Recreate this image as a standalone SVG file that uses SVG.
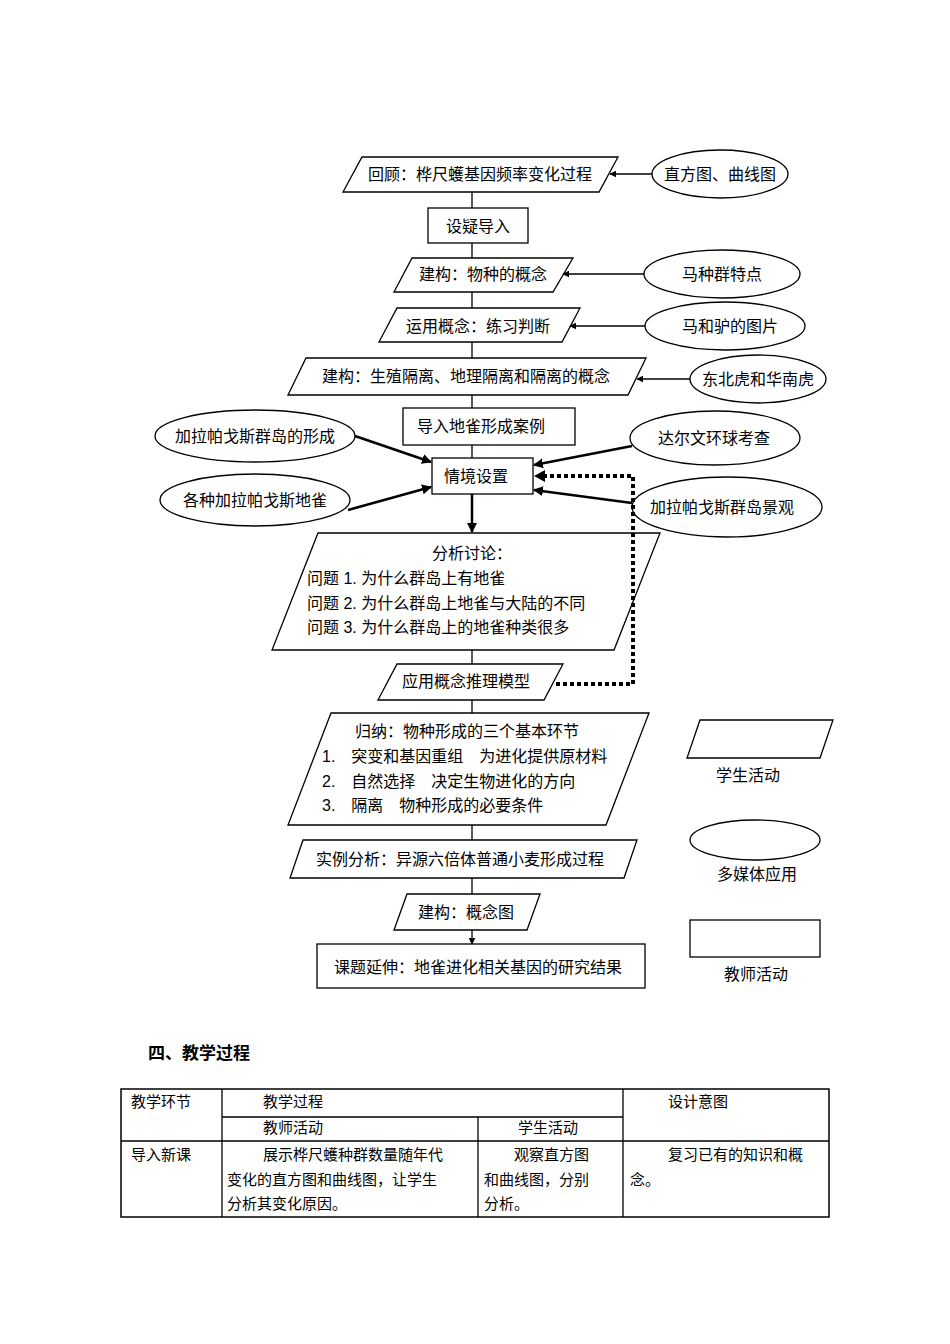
<svg xmlns="http://www.w3.org/2000/svg" width="950" height="1344" viewBox="0 0 950 1344">
<style>
text{font-family:"Liberation Sans","Noto Sans CJK SC",sans-serif;font-size:16px;fill:#000}
.s{fill:#fff;stroke:#000;stroke-width:1.3}
.c{stroke:#000;stroke-width:1.3;fill:none}
.t{stroke:#000;stroke-width:2.5;fill:none}
.m{text-anchor:middle}
.tb{font-size:15px}
</style>
<defs>
<marker id="a" viewBox="0 0 10 10" refX="9" refY="5" markerWidth="7" markerHeight="7" orient="auto" markerUnits="userSpaceOnUse"><path d="M0,0L10,5L0,10z"/></marker>
<marker id="b" viewBox="0 0 10 10" refX="9" refY="5" markerWidth="10" markerHeight="10" orient="auto" markerUnits="userSpaceOnUse"><path d="M0,0L10,5L0,10z"/></marker>
</defs>
<rect width="950" height="1344" fill="#fff"/>
<g id="n1"><polygon class="s" points="362,157 618,157 599,192 343,192"/><text class="m" x="480" y="180">回顾：桦尺蠖基因频率变化过程</text></g>
<g id="e1"><ellipse class="s" cx="720" cy="174" rx="68" ry="24"/><text class="m" x="720" y="180">直方图、曲线图</text></g>
<g id="n2"><rect class="s" x="428" y="208" width="100" height="35"/><text class="m" x="478" y="232">设疑导入</text></g>
<g id="n3"><polygon class="s" points="412,258 573,258 553,292 394,292"/><text class="m" x="483" y="280">建构：物种的概念</text></g>
<g id="e2"><ellipse class="s" cx="722" cy="274" rx="78" ry="24"/><text class="m" x="722" y="280">马种群特点</text></g>
<g id="n4"><polygon class="s" points="397,308 580,308 562,342 379,342"/><text class="m" x="478" y="332">运用概念：练习判断</text></g>
<g id="e3"><ellipse class="s" cx="725" cy="326" rx="80" ry="24"/><text class="m" x="730" y="332">马和驴的图片</text></g>
<g id="n5"><polygon class="s" points="306,358 646,358 628,395 288,395"/><text class="m" x="466" y="382">建构：生殖隔离、地理隔离和隔离的概念</text></g>
<g id="e4"><ellipse class="s" cx="758" cy="379" rx="68" ry="24"/><text class="m" x="758" y="385">东北虎和华南虎</text></g>
<g id="n6"><rect class="s" x="403" y="408" width="172" height="37"/><text class="m" x="481" y="432">导入地雀形成案例</text></g>
<g id="e5"><ellipse class="s" cx="255" cy="436" rx="100" ry="26"/><text class="m" x="255" y="442">加拉帕戈斯群岛的形成</text></g>
<g id="e6"><ellipse class="s" cx="255" cy="500" rx="95" ry="26"/><text class="m" x="255" y="506">各种加拉帕戈斯地雀</text></g>
<g id="e7"><ellipse class="s" cx="715" cy="438" rx="85" ry="27"/><text class="m" x="714" y="444">达尔文环球考查</text></g>
<g id="e8"><ellipse class="s" cx="727" cy="507" rx="95" ry="30"/><text class="m" x="722" y="513">加拉帕戈斯群岛景观</text></g>
<g id="n7"><rect class="s" x="432" y="458" width="101" height="36"/><text class="m" x="476" y="482">情境设置</text></g>
<g id="n8"><polygon class="s" points="318,533 660,533 614,650 272,650"/>
<text class="m" x="472" y="559">分析讨论：</text>
<text x="307" y="584">问题 1. 为什么群岛上有地雀</text>
<text x="307" y="609">问题 2. 为什么群岛上地雀与大陆的不同</text>
<text x="307" y="633">问题 3. 为什么群岛上的地雀种类很多</text></g>
<g id="n9"><polygon class="s" points="397,664 563,664 544,700 378,700"/><text class="m" x="466" y="687">应用概念推理模型</text></g>
<g id="n10"><polygon class="s" points="331,713 649,713 606,825 288,825"/>
<text x="355" y="737">归纳：物种形成的三个基本环节</text>
<text x="322" y="762">1.　突变和基因重组　为进化提供原材料</text>
<text x="322" y="787">2.　自然选择　决定生物进化的方向</text>
<text x="322" y="811">3.　隔离　物种形成的必要条件</text></g>
<g id="n11"><polygon class="s" points="303,840 637,840 624,878 290,878"/><text class="m" x="460" y="865">实例分析：异源六倍体普通小麦形成过程</text></g>
<g id="n12"><polygon class="s" points="407,894 540,894 527,930 394,930"/><text class="m" x="466" y="918">建构：概念图</text></g>
<g id="n13"><rect class="s" x="317" y="944" width="328" height="44"/><text class="m" x="478" y="973">课题延伸：地雀进化相关基因的研究结果</text></g>
<g id="legend">
<polygon class="s" points="700,720 833,720 820,758 687,758"/><text class="m" x="748" y="781">学生活动</text>
<ellipse class="s" cx="755" cy="840" rx="65" ry="20"/><text class="m" x="757" y="880">多媒体应用</text>
<rect class="s" x="690" y="920" width="130" height="37"/><text class="m" x="756" y="980">教师活动</text>
</g>
<g id="connectors">
<path class="c" marker-end="url(#a)" d="M472,192V208M472,243V258M472,292V308M472,342V358M472,395V408M472,445V458M472,650V664M472,700V713M472,825V840M472,878V894M472,930V944"/>
<path class="c" marker-end="url(#a)" d="M652,174H610"/>
<path class="c" marker-end="url(#a)" d="M644,274H563"/>
<path class="c" marker-end="url(#a)" d="M645,326H570"/>
<path class="c" marker-end="url(#a)" d="M690,379H637"/>
<path class="t" marker-end="url(#b)" d="M355,436L431,462"/>
<path class="t" marker-end="url(#b)" d="M348,510L431,487"/>
<path class="t" marker-end="url(#b)" d="M632,446L534,465"/>
<path class="t" marker-end="url(#b)" d="M632,503L534,490"/>
<path class="t" marker-end="url(#b)" d="M472,494V532"/>
<path d="M556,684H633V476H545" fill="none" stroke="#000" stroke-width="4" stroke-dasharray="4,3"/>
<path d="M545,470L534,476L545,482z"/>
</g>
<text x="148" y="1059" style="font-size:17px;font-weight:bold">四、教学过程</text>
<g id="table">
<rect x="121" y="1089" width="708" height="128" fill="none" stroke="#000" stroke-width="1.5"/>
<path class="c" d="M222,1089V1217M623,1089V1217M478,1117V1217M222,1117H623M121,1141H829"/>
<text class="tb" x="131" y="1107">教学环节</text>
<text class="tb" x="263" y="1107">教学过程</text>
<text class="tb" x="668" y="1107">设计意图</text>
<text class="tb" x="263" y="1133">教师活动</text>
<text class="tb" x="518" y="1133">学生活动</text>
<text class="tb" x="131" y="1160">导入新课</text>
<text class="tb" x="263" y="1160">展示桦尺蠖种群数量随年代</text>
<text class="tb" x="227" y="1185">变化的直方图和曲线图，让学生</text>
<text class="tb" x="227" y="1209">分析其变化原因。</text>
<text class="tb" x="514" y="1160">观察直方图</text>
<text class="tb" x="484" y="1185">和曲线图，分别</text>
<text class="tb" x="484" y="1209">分析。</text>
<text class="tb" x="668" y="1160">复习已有的知识和概</text>
<text class="tb" x="630" y="1185">念。</text>
</g>
</svg>
